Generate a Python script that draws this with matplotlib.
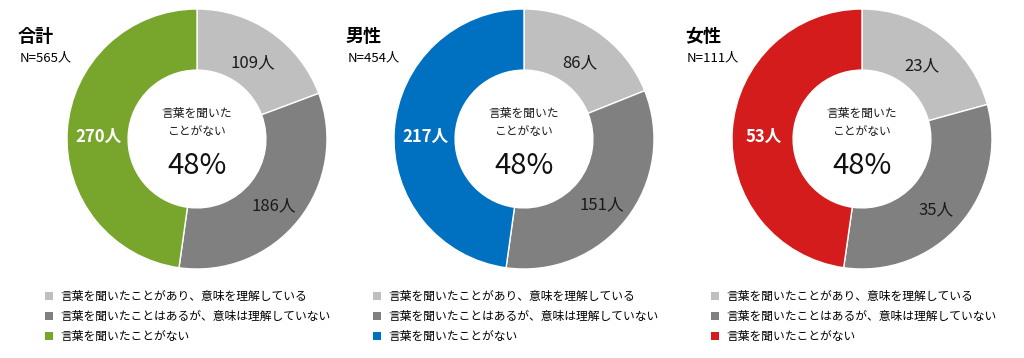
import matplotlib
matplotlib.use("Agg")
import matplotlib.pyplot as plt
from matplotlib.patches import Patch
import numpy as np

plt.rcParams['font.family'] = ['Noto Sans CJK JP', 'DejaVu Sans']

groups = ["合計", "男性", "女性"]
totals = [565, 454, 111]
understood = [109, 86, 23]
not_understood = [186, 151, 35]
never_heard = [270, 217, 53]
center_pct = ["48%", "48%", "48%"]
categories = ["言葉を聞いたことがあり、意味を理解している",
              "言葉を聞いたことはあるが、意味は理解していない",
              "言葉を聞いたことがない"]
main_colors = ["#78A52C", "#0070C0", "#D41C1C"]

W, H = 1024, 358
fig = plt.figure(figsize=(W / 100, H / 100), dpi=100)

centers_x = [197, 524, 862]
center_y = 139
R = 130
title_x = [18, 346, 685]
legend_x = [45, 373, 711]

for i in range(3):
    vals = [understood[i], not_understood[i], never_heard[i]]
    cols = ["#BFBFBF", "#808080", main_colors[i]]
    ax = fig.add_axes([(centers_x[i] - R) / W, (H - center_y - R) / H, 2 * R / W, 2 * R / H])
    wedges, _ = ax.pie(vals, colors=cols, startangle=90, counterclock=False,
                       radius=1.0, wedgeprops=dict(width=0.47, edgecolor="white", linewidth=1))
    ax.set_xlim(-1.0, 1.0)
    ax.set_ylim(-1.0, 1.0)
    ax.set_aspect("equal")

    for w, v, k in zip(wedges, vals, range(3)):
        ang = np.deg2rad((w.theta1 + w.theta2) / 2)
        r = 0.76
        ax.text(r * np.cos(ang), r * np.sin(ang) - 0.04, f"{v}人", ha="center", va="center",
                fontsize=12, color="white" if k == 2 else "#1a1a1a",
                fontweight="bold" if k == 2 else "normal")

    ax.text(0, 0.20, "言葉を聞いた", ha="center", va="center", fontsize=8.5, color="#1a1a1a")
    ax.text(0, 0.06, "ことがない", ha="center", va="center", fontsize=8.5, color="#1a1a1a")
    ax.text(0, -0.21, center_pct[i], ha="center", va="center", fontsize=21, color="#111111")

    fig.text(title_x[i] / W, 1 - 36 / H, groups[i], fontsize=13, fontweight="bold",
             va="center", ha="left")
    fig.text(title_x[i] / W + 2 / W, 1 - 58 / H, f"N={totals[i]}人", fontsize=9.5,
             va="center", ha="left")

    handles = [Patch(facecolor=c, edgecolor="none") for c in cols]
    fig.legend(handles, categories, loc="upper left",
               bbox_to_anchor=(legend_x[i] / W, 1 - 290 / H), frameon=False,
               fontsize=8.5, handlelength=0.7, handleheight=0.7, handletextpad=0.6,
               labelspacing=0.6, borderaxespad=0, borderpad=0)

fig.savefig("out.png", dpi=100)
